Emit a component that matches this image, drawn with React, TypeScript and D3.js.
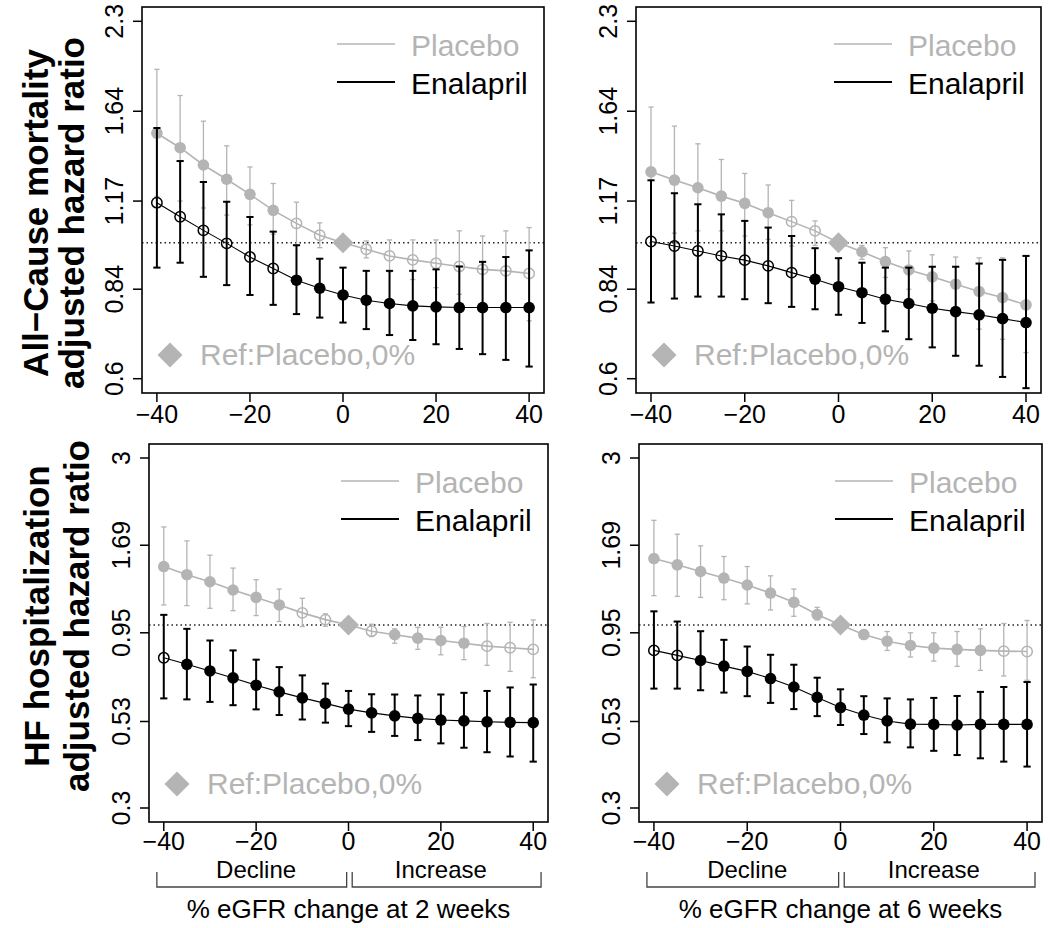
import React, { useEffect, useRef } from "react";
import * as d3 from "d3";

// x categories: % eGFR change
const pctChange = [-40, -35, -30, -25, -20, -15, -10, -5, 0, 5, 10, 15, 20, 25, 30, 35, 40];
const xTicks = [-40, -20, 0, 20, 40];
const mortalityTicks = [0.6, 0.84, 1.17, 1.64, 2.3];
const hfTicks = [0.3, 0.53, 0.95, 1.69, 3];

// All-cause mortality, eGFR change at 2 weeks (placebo at 0% is the reference)
const mort2wPlaceboHR = [1.51, 1.43, 1.34, 1.27, 1.2, 1.13, 1.076, 1.029, 1, 0.976, 0.952, 0.938, 0.926, 0.915, 0.905, 0.9, 0.891];
const mort2wPlaceboLo = [1.19, 1.17, 1.14, 1.11, 1.07, 1.033, 0.99, 0.982, null, 0.945, 0.897, 0.871, 0.845, 0.824, 0.799, 0.774, 0.746];
const mort2wPlaceboHi = [1.92, 1.74, 1.58, 1.44, 1.33, 1.25, 1.165, 1.078, null, 1.007, 1.011, 1.011, 1.011, 1.046, 1.026, 1.046, 1.059];
const mort2wEnalaprilHR = [1.163, 1.103, 1.048, 0.998, 0.948, 0.908, 0.869, 0.843, 0.822, 0.806, 0.796, 0.789, 0.786, 0.784, 0.784, 0.784, 0.784];
const mort2wEnalaprilLo = [0.911, 0.928, 0.88, 0.853, 0.822, 0.792, 0.765, 0.755, 0.741, 0.723, 0.707, 0.694, 0.683, 0.671, 0.658, 0.644, 0.628];
const mort2wEnalaprilHi = [1.54, 1.36, 1.257, 1.167, 1.102, 1.043, 0.991, 0.942, 0.911, 0.9, 0.9, 0.9, 0.905, 0.915, 0.931, 0.948, 0.972];

// All-cause mortality, 6 weeks
const mort6wPlaceboHR = [1.306, 1.266, 1.23, 1.192, 1.16, 1.12, 1.083, 1.046, 1, 0.967, 0.932, 0.903, 0.88, 0.856, 0.833, 0.814, 0.792];
const mort6wPlaceboLo = [1.025, 1.037, 1.046, 1.046, 1.026, 1.013, 0.988, 0.99, null, 0.94, 0.878, 0.84, 0.804, 0.765, 0.723, 0.696, 0.662];
const mort6wPlaceboHi = [1.666, 1.551, 1.451, 1.368, 1.298, 1.243, 1.173, 1.086, null, 0.99, 0.982, 0.97, 0.956, 0.948, 0.945, 0.945, 0.952];
const mort6wEnalaprilHR = [1.005, 0.988, 0.97, 0.952, 0.937, 0.917, 0.894, 0.872, 0.848, 0.829, 0.809, 0.796, 0.782, 0.772, 0.763, 0.752, 0.741];
const mort6wEnalaprilLo = [0.799, 0.811, 0.817, 0.817, 0.809, 0.797, 0.786, 0.779, 0.763, 0.74, 0.717, 0.696, 0.675, 0.654, 0.63, 0.604, 0.579];
const mort6wEnalaprilHi = [1.265, 1.205, 1.156, 1.113, 1.086, 1.059, 1.026, 0.98, 0.944, 0.928, 0.911, 0.911, 0.914, 0.914, 0.925, 0.938, 0.952];

// HF hospitalization, 2 weeks
const hf2wPlaceboHR = [1.469, 1.392, 1.329, 1.259, 1.199, 1.141, 1.083, 1.036, 1, 0.96, 0.938, 0.917, 0.903, 0.887, 0.87, 0.861, 0.852];
const hf2wPlaceboLo = [1.141, 1.136, 1.116, 1.099, 1.064, 1.023, 0.99, 0.992, null, 0.927, 0.887, 0.852, 0.822, 0.796, 0.767, 0.737, 0.707];
const hf2wPlaceboHi = [1.906, 1.739, 1.583, 1.454, 1.347, 1.267, 1.192, 1.076, null, 1.005, 0.975, 0.985, 0.985, 0.99, 1.01, 1.018, 1.034];
const hf2wEnalaprilHR = [0.806, 0.772, 0.739, 0.706, 0.673, 0.644, 0.619, 0.597, 0.575, 0.561, 0.55, 0.541, 0.535, 0.532, 0.529, 0.527, 0.526];
const hf2wEnalaprilLo = [0.617, 0.613, 0.603, 0.59, 0.574, 0.553, 0.537, 0.526, 0.514, 0.495, 0.482, 0.469, 0.459, 0.446, 0.433, 0.421, 0.407];
const hf2wEnalaprilHi = [1.069, 0.975, 0.903, 0.846, 0.796, 0.758, 0.718, 0.68, 0.648, 0.634, 0.633, 0.629, 0.633, 0.64, 0.648, 0.663, 0.676];

// HF hospitalization, 6 weeks
const hf6wPlaceboHR = [1.548, 1.486, 1.422, 1.362, 1.301, 1.234, 1.161, 1.071, 1, 0.939, 0.899, 0.874, 0.859, 0.852, 0.846, 0.842, 0.84];
const hf6wPlaceboLo = [1.213, 1.207, 1.199, 1.181, 1.149, 1.104, 1.059, 1.034, null, 0.913, 0.846, 0.81, 0.789, 0.762, 0.742, 0.715, 0.695];
const hf6wPlaceboHi = [1.991, 1.817, 1.683, 1.569, 1.469, 1.382, 1.267, 1.123, null, 0.969, 0.958, 0.95, 0.95, 0.958, 0.975, 1.01, 1.03];
const hf6wEnalaprilHR = [0.846, 0.819, 0.792, 0.763, 0.737, 0.703, 0.665, 0.621, 0.581, 0.553, 0.532, 0.521, 0.52, 0.518, 0.52, 0.52, 0.52];
const hf6wEnalaprilLo = [0.658, 0.658, 0.651, 0.641, 0.626, 0.599, 0.575, 0.549, 0.518, 0.488, 0.462, 0.447, 0.437, 0.425, 0.416, 0.407, 0.394];
const hf6wEnalaprilHi = [1.094, 1.023, 0.96, 0.907, 0.868, 0.822, 0.77, 0.707, 0.655, 0.626, 0.617, 0.613, 0.619, 0.627, 0.644, 0.665, 0.687];

const GRAY = "#b4b4b4";
const FONT = "'Liberation Sans', Arial, Helvetica, sans-serif";

type Series = { hr: number[]; lo: (number | null)[]; hi: (number | null)[] };

const panels = [
  {
    left: 142, right: 544, top: 7, bottom: 393, ticks: mortalityTicks,
    placebo: { hr: mort2wPlaceboHR, lo: mort2wPlaceboLo, hi: mort2wPlaceboHi },
    enalapril: { hr: mort2wEnalaprilHR, lo: mort2wEnalaprilLo, hi: mort2wEnalaprilHi },
    title: ["All\u2212Cause mortality", "adjusted hazard ratio"], titleX: [48, 84], titleY: 213,
  },
  {
    left: 636, right: 1041, top: 7, bottom: 393, ticks: mortalityTicks,
    placebo: { hr: mort6wPlaceboHR, lo: mort6wPlaceboLo, hi: mort6wPlaceboHi },
    enalapril: { hr: mort6wEnalaprilHR, lo: mort6wEnalaprilLo, hi: mort6wEnalaprilHi },
  },
  {
    left: 149, right: 548, top: 444, bottom: 822, ticks: hfTicks,
    placebo: { hr: hf2wPlaceboHR, lo: hf2wPlaceboLo, hi: hf2wPlaceboHi },
    enalapril: { hr: hf2wEnalaprilHR, lo: hf2wEnalaprilLo, hi: hf2wEnalaprilHi },
    title: ["HF hospitalization", "adjusted hazard ratio"], titleX: [49, 89], titleY: 616,
    xTitle: "% eGFR change at 2 weeks",
  },
  {
    left: 639, right: 1042, top: 444, bottom: 822, ticks: hfTicks,
    placebo: { hr: hf6wPlaceboHR, lo: hf6wPlaceboLo, hi: hf6wPlaceboHi },
    enalapril: { hr: hf6wEnalaprilHR, lo: hf6wEnalaprilLo, hi: hf6wEnalaprilHi },
    xTitle: "% eGFR change at 6 weeks",
  },
];

function diamond(cx: number, cy: number, r: number) {
  return `M${cx},${cy - r}L${cx + r},${cy}L${cx},${cy + r}L${cx - r},${cy}Z`;
}

function drawSeries(g: any, x: any, y: any, s: Series, color: string, thick: boolean) {
  const sw = thick ? 2 : 1.3;
  const cap = thick ? 3.6 : 2.6;
  pctChange.forEach((p, i) => {
    const lo = s.lo[i], hi = s.hi[i];
    if (lo == null || hi == null) return;
    const cx = x(p);
    g.append("line").attr("x1", cx).attr("x2", cx).attr("y1", y(lo)).attr("y2", y(hi))
      .attr("stroke", color).attr("stroke-width", sw);
    [lo, hi].forEach((v) => {
      g.append("line").attr("x1", cx - cap).attr("x2", cx + cap).attr("y1", y(v)).attr("y2", y(v))
        .attr("stroke", color).attr("stroke-width", sw);
    });
  });

  const line = d3.line<number>().x((d, i) => x(pctChange[i])).y((d) => y(d));
  g.append("path").datum(s.hr).attr("d", line).attr("fill", "none")
    .attr("stroke", color).attr("stroke-width", thick ? 1.1 : 1.6);

  pctChange.forEach((p, i) => {
    const lo = s.lo[i], hi = s.hi[i];
    const cx = x(p), cy = y(s.hr[i]);
    if (lo == null || hi == null) {
      g.append("path").attr("d", diamond(cx, cy, 10.5)).attr("fill", color);
      return;
    }
    // open symbol when the interval crosses HR = 1
    const open = lo < 1 && hi > 1;
    if (open) {
      g.append("circle").attr("cx", cx).attr("cy", cy).attr("r", 5.2)
        .attr("fill", "none").attr("stroke", color).attr("stroke-width", 1.5);
    } else {
      g.append("circle").attr("cx", cx).attr("cy", cy).attr("r", 5.8).attr("fill", color);
    }
  });
}

function drawPanel(svg: any, p: any) {
  const x = d3.scaleLinear().domain([-43.2, 43.2]).range([p.left, p.right]);
  const t0 = p.ticks[0], t1 = p.ticks[p.ticks.length - 1];
  const pad = Math.log(t1 / t0) * 0.04;
  const y = d3.scaleLog().domain([t0 * Math.exp(-pad), t1 * Math.exp(pad)]).range([p.bottom, p.top]);
  const g = svg.append("g");

  // reference line at HR = 1
  g.append("line").attr("x1", p.left).attr("x2", p.right).attr("y1", y(1)).attr("y2", y(1))
    .attr("stroke", "#222").attr("stroke-width", 1.5).attr("stroke-dasharray", "1.5,3");

  drawSeries(g, x, y, p.placebo, GRAY, false);
  drawSeries(g, x, y, p.enalapril, "#000", true);

  // frame
  g.append("rect").attr("x", p.left).attr("y", p.top)
    .attr("width", p.right - p.left).attr("height", p.bottom - p.top)
    .attr("fill", "none").attr("stroke", "#000").attr("stroke-width", 1.6);

  // x axis
  const labY = p.xTitle ? p.bottom + 28 : p.bottom + 30;
  xTicks.forEach((v) => {
    g.append("line").attr("x1", x(v)).attr("x2", x(v)).attr("y1", p.bottom).attr("y2", p.bottom + 9)
      .attr("stroke", "#000").attr("stroke-width", 1.5);
    g.append("text").attr("x", x(v)).attr("y", labY).attr("text-anchor", "middle")
      .attr("font-family", FONT).attr("font-size", 25).text(d3.format("d")(v));
  });

  // y axis (labels rotated, as in R)
  p.ticks.forEach((v: number) => {
    g.append("line").attr("x1", p.left - 9).attr("x2", p.left).attr("y1", y(v)).attr("y2", y(v))
      .attr("stroke", "#000").attr("stroke-width", 1.5);
    g.append("text").attr("transform", `translate(${p.left - 19},${y(v)}) rotate(-90)`)
      .attr("text-anchor", "middle").attr("font-family", FONT).attr("font-size", 25).text(String(v));
  });

  // legend
  const lx = p.right - 207;
  g.append("line").attr("x1", lx).attr("x2", lx + 58).attr("y1", p.top + 37).attr("y2", p.top + 37)
    .attr("stroke", GRAY).attr("stroke-width", 1.6);
  g.append("text").attr("x", p.right - 133).attr("y", p.top + 48.5).attr("font-family", FONT)
    .attr("font-size", 30).attr("fill", GRAY).text("Placebo");
  g.append("line").attr("x1", lx).attr("x2", lx + 58).attr("y1", p.top + 75).attr("y2", p.top + 75)
    .attr("stroke", "#000").attr("stroke-width", 2);
  g.append("text").attr("x", p.right - 133).attr("y", p.top + 86.5).attr("font-family", FONT)
    .attr("font-size", 30).attr("fill", "#000").text("Enalapril");

  g.append("path").attr("d", diamond(p.left + 28, p.bottom - 38, 12.5)).attr("fill", GRAY);
  g.append("text").attr("x", p.left + 58).attr("y", p.bottom - 28).attr("font-family", FONT)
    .attr("font-size", 30).attr("fill", GRAY).text("Ref:Placebo,0%");

  // y title
  if (p.title) {
    p.title.forEach((t: string, k: number) => {
      g.append("text").attr("transform", `translate(${p.titleX[k]},${p.titleY}) rotate(-90)`)
        .attr("text-anchor", "middle").attr("font-family", FONT).attr("font-weight", "bold")
        .attr("font-size", 35).text(t);
    });
  }

  // decline / increase brackets and x title
  if (p.xTitle) {
    const by = p.bottom + 65;
    [[-41.5, -0.4], [0.8, 41.7]].forEach(([a, b]) => {
      g.append("path")
        .attr("d", `M${x(a)},${by - 15}L${x(a)},${by}L${x(b)},${by}L${x(b)},${by - 15}`)
        .attr("fill", "none").attr("stroke", "#444").attr("stroke-width", 1.3);
    });
    g.append("text").attr("x", x(-20)).attr("y", p.bottom + 56).attr("text-anchor", "middle")
      .attr("font-family", FONT).attr("font-size", 24).text("Decline");
    g.append("text").attr("x", x(20)).attr("y", p.bottom + 56).attr("text-anchor", "middle")
      .attr("font-family", FONT).attr("font-size", 24).text("Increase");
    g.append("text").attr("x", x(0)).attr("y", p.bottom + 96).attr("text-anchor", "middle")
      .attr("font-family", FONT).attr("font-size", 26).text(p.xTitle);
  }
}

export default function App() {
  const ref = useRef<SVGSVGElement>(null);

  useEffect(() => {
    const svg = d3.select(ref.current);
    svg.selectAll("*").remove();
    svg.append("rect").attr("width", 1050).attr("height", 928).attr("fill", "#fff");
    panels.forEach((p) => drawPanel(svg, p));
  }, []);

  return (
    <svg ref={ref} width={1050} height={928} viewBox="0 0 1050 928"
      style={{ position: "absolute", left: 0, top: 0, display: "block" }} />
  );
}
